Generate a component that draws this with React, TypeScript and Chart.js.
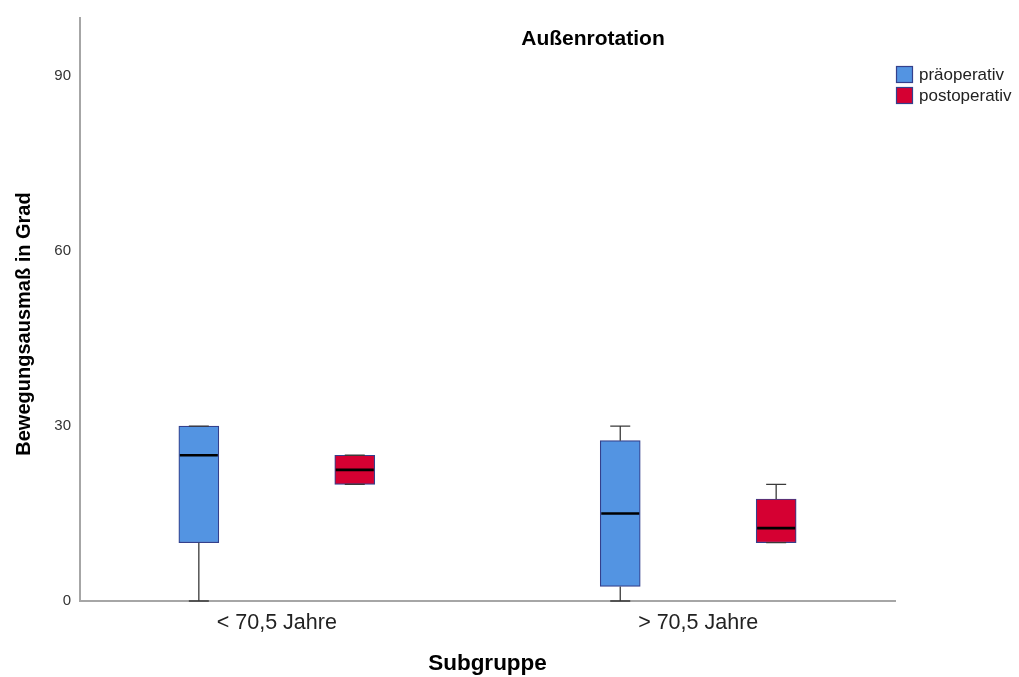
import { useEffect, useRef } from 'react';
import { Chart, registerables } from 'chart.js';

Chart.register(...registerables);

// ---------- data ----------
const categories = ['< 70,5 Jahre', '> 70,5 Jahre'];
const seriesNames = ['präoperativ', 'postoperativ'];

const preMin = [0, 0];
const preQ1 = [10, 2.5];
const preMedian = [25, 15];
const preQ3 = [30, 27.5];
const preMax = [30, 30];

const postMin = [20, 10];
const postQ1 = [20, 10];
const postMedian = [22.5, 12.5];
const postQ3 = [25, 17.5];
const postMax = [25, 20];

const yTicks = [0, 30, 60, 90];

const chartTitle = 'Außenrotation';
const xTitle = 'Subgruppe';
const yTitle = 'Bewegungsausmaß in Grad';

// ---------- styles ----------
const FONT = "'Liberation Sans', Arial, sans-serif";
const fillColors = ['#5394e2', '#d50032'];
const boxBorder = '#34408c';
const axisColor = '#a6a6a6';
const seriesOffsets = [-0.185, 0.185];

const stats = [
  { min: preMin, q1: preQ1, med: preMedian, q3: preQ3, max: preMax },
  { min: postMin, q1: postQ1, med: postMedian, q3: postQ3, max: postMax },
];

const boxPlugin = {
  id: 'boxWhiskers',
  afterDatasetsDraw(chart: any) {
    const { ctx } = chart;
    const y = chart.scales.y;
    stats.forEach((s, si) => {
      const meta = chart.getDatasetMeta(si);
      categories.forEach((_, i) => {
        const el: any = meta.data[i];
        if (!el) return;
        const cx = el.x;
        const half = el.width / 2;
        const capHalf = half / 2;
        const yMin = y.getPixelForValue(s.min[i]);
        const yQ1 = y.getPixelForValue(s.q1[i]);
        const yMed = y.getPixelForValue(s.med[i]);
        const yQ3 = y.getPixelForValue(s.q3[i]);
        const yMax = y.getPixelForValue(s.max[i]);
        ctx.save();
        ctx.strokeStyle = '#3a3a3a';
        ctx.lineWidth = 1.3;
        ctx.beginPath();
        ctx.moveTo(cx, yQ3);
        ctx.lineTo(cx, yMax);
        ctx.moveTo(cx, yQ1);
        ctx.lineTo(cx, yMin);
        ctx.moveTo(cx - capHalf, yMax);
        ctx.lineTo(cx + capHalf, yMax);
        ctx.moveTo(cx - capHalf, yMin);
        ctx.lineTo(cx + capHalf, yMin);
        ctx.stroke();
        ctx.strokeStyle = '#000';
        ctx.lineWidth = 2.6;
        ctx.beginPath();
        ctx.moveTo(cx - half + 1, yMed);
        ctx.lineTo(cx + half - 1, yMed);
        ctx.stroke();
        ctx.restore();
      });
    });
  },
  afterDraw(chart: any) {
    const { ctx } = chart;
    ctx.save();
    // chart title
    ctx.fillStyle = '#000';
    ctx.font = `bold 21px ${FONT}`;
    ctx.textAlign = 'center';
    ctx.textBaseline = 'alphabetic';
    ctx.fillText(chartTitle, 593, 45);
    // y axis title
    ctx.save();
    ctx.translate(24, 324);
    ctx.rotate(-Math.PI / 2);
    ctx.font = `bold 20px ${FONT}`;
    ctx.textAlign = 'center';
    ctx.textBaseline = 'middle';
    ctx.fillText(yTitle, 0, 0);
    ctx.restore();
    // legend
    seriesNames.forEach((name, i) => {
      const top = 66 + i * 21;
      ctx.fillStyle = fillColors[i];
      ctx.fillRect(896, top, 17, 17);
      ctx.strokeStyle = boxBorder;
      ctx.lineWidth = 1.2;
      ctx.strokeRect(896.5, top + 0.5, 16, 16);
      ctx.fillStyle = '#222';
      ctx.font = `17px ${FONT}`;
      ctx.textAlign = 'left';
      ctx.textBaseline = 'middle';
      ctx.fillText(name, 919, top + 9);
    });
    ctx.restore();
  },
};

export default function App() {
  const ref = useRef<HTMLCanvasElement | null>(null);

  useEffect(() => {
    if (!ref.current) return;
    Chart.defaults.font.family = FONT;
    const chart = new Chart(ref.current, {
      type: 'bar',
      data: {
        datasets: stats.map((s, si) => ({
          type: 'bar' as const,
          label: seriesNames[si],
          data: categories.map((_, i) => ({ x: i + seriesOffsets[si], y: [s.q1[i], s.q3[i]] })) as any,
          backgroundColor: fillColors[si],
          borderColor: boxBorder,
          borderWidth: 1.2,
          borderSkipped: false,
          barThickness: 40,
          grouped: false,
        })),
      },
      options: {
        animation: false,
        responsive: false,
        maintainAspectRatio: false,
        layout: { padding: { top: 14, right: 124, left: 0, bottom: 0 } },
        plugins: {
          legend: { display: false },
          tooltip: { enabled: false },
          title: { display: false },
        },
        scales: {
          x: {
            type: 'linear',
            min: -0.467,
            max: 1.467,
            offset: false,
            grid: { display: false, drawTicks: false },
            border: { display: true, color: axisColor, width: 2 },
            afterBuildTicks: (scale: any) => {
              scale.ticks = categories.map((_, i) => ({ value: i }));
            },
            afterFit: (scale: any) => {
              scale.height = 76;
            },
            ticks: {
              padding: 9,
              color: '#222',
              font: { size: 21.5 },
              maxRotation: 0,
              autoSkip: false,
              callback: (_v: any, idx: number) => categories[idx],
            },
            title: {
              display: true,
              text: xTitle,
              color: '#000',
              font: { size: 22.5, weight: 'bold' },
              padding: { top: 0, bottom: 0 },
            },
          },
          y: {
            type: 'linear',
            min: 0,
            max: 100,
            grid: { display: false, drawTicks: false },
            border: { display: true, color: axisColor, width: 2 },
            afterBuildTicks: (scale: any) => {
              scale.ticks = yTicks.map((v) => ({ value: v }));
            },
            afterFit: (scale: any) => {
              scale.width = 80;
            },
            ticks: {
              padding: 9,
              color: '#333',
              font: { size: 15 },
            },
          },
        },
      } as any,
      plugins: [boxPlugin],
    });
    return () => chart.destroy();
  }, []);

  return (
    <div style={{ position: 'fixed', left: 0, top: 0, width: 1019, height: 677, background: '#fff' }}>
      <canvas ref={ref} width={1019} height={677} style={{ width: 1019, height: 677, display: 'block' }} />
    </div>
  );
}
